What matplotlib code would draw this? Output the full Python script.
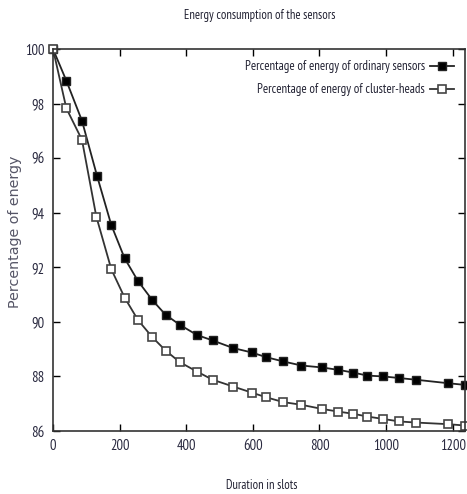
import matplotlib
matplotlib.use("Agg")
import matplotlib.pyplot as plt
from matplotlib import font_manager

slots_ord = [0, 40, 87, 132, 175, 215, 255, 298, 338, 381, 432, 479, 541, 596, 639, 691, 746, 807, 857, 902, 944, 992, 1040, 1089, 1187, 1237]
energy_ord = [100, 98.84, 97.37, 95.36, 93.55, 92.33, 91.5, 90.8, 90.26, 89.89, 89.52, 89.32, 89.04, 88.88, 88.71, 88.55, 88.4, 88.33, 88.24, 88.14, 88.03, 88.0, 87.94, 87.88, 87.75, 87.69]
slots_ch = [0, 40, 87, 130, 175, 215, 255, 298, 338, 381, 432, 479, 541, 596, 639, 691, 746, 807, 857, 902, 944, 992, 1040, 1089, 1187, 1237]
energy_ch = [100, 97.83, 96.67, 93.86, 91.93, 90.89, 90.07, 89.44, 88.95, 88.52, 88.18, 87.88, 87.63, 87.41, 87.24, 87.06, 86.96, 86.81, 86.71, 86.63, 86.53, 86.44, 86.35, 86.31, 86.25, 86.2]
xticks = [0, 200, 400, 600, 800, 1000, 1200]
yticks = [86, 88, 90, 92, 94, 96, 98, 100]

names = {f.name for f in font_manager.fontManager.ttflist}
candidates = ["PT Sans Narrow", "Liberation Sans Narrow", "Arial Narrow", "Archivo Narrow",
              "Roboto Condensed", "Open Sans Condensed", "Fira Sans Condensed",
              "IBM Plex Sans Condensed", "Asap Condensed", "Encode Sans Condensed", "Liberation Sans"]
narrow = next(c for c in candidates if c in names or c == "Liberation Sans")

fig = plt.figure(figsize=(4.67, 4.94), dpi=100)
ax = fig.add_axes([53/467, 63/494, 412/467, 382/494])

ax.plot(slots_ord, energy_ord, color="#222222", lw=1.3, marker="s", ms=5.5,
        mfc="black", mec="#222222", label="Percentage of energy of ordinary sensors", clip_on=False)
ax.plot(slots_ch, energy_ch, color="#333333", lw=1.3, marker="s", ms=5.5,
        mfc="white", mec="#444444", mew=1.2, label="Percentage of energy of cluster-heads", clip_on=False)

ax.set_xlim(0, 1237)
ax.set_ylim(86, 100)
ax.set_xticks(xticks)
ax.set_yticks(yticks)
ax.tick_params(direction="in", top=True, right=True, length=5, width=1, labelsize=10.5, pad=6)
for lab in ax.get_xticklabels() + ax.get_yticklabels():
    lab.set_family(narrow)
    lab.set_color("#2a2a40")
for s in ax.spines.values():
    s.set_linewidth(1.2)
    s.set_color("#333333")

leg = ax.legend(loc="upper right", bbox_to_anchor=(0.993, 0.99), frameon=False, markerfirst=False,
                prop={"family": narrow, "size": 9.2}, handlelength=1.9, labelspacing=0.75,
                borderaxespad=0.2, handletextpad=0.4)
for t in leg.get_texts():
    t.set_color("#222233")

fig.text(260/467, 1 - 15/494, "Energy consumption of the sensors", ha="center", va="center",
         family=narrow, fontsize=9, color="#222233")
fig.text(262/467, 1 - 485/494, "Duration in slots", ha="center", va="center",
         family=narrow, fontsize=9, color="#222233")
fig.text(15/467, 1 - 232/494, "Percentage of energy", ha="center", va="center", rotation=90,
         family="DejaVu Sans", fontsize=10.3, color="#555566")

fig.savefig("out.png", dpi=100)
